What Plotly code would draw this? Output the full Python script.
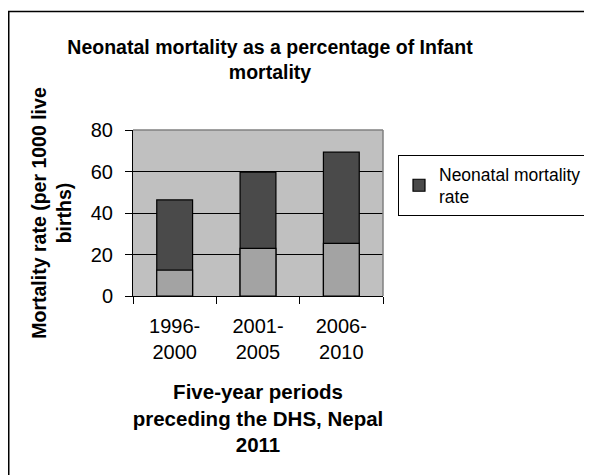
import plotly.graph_objects as go

categories = ["1996-<br>2000", "2001-<br>2005", "2006-<br>2010"]
neonatal_total = [46.3, 59.7, 69.3]
lower_values = [12.5, 23.0, 25.4]
y_ticks = [0, 20, 40, 60, 80]

FONT = "Liberation Sans, Arial, sans-serif"

fig = go.Figure()
fig.add_trace(go.Bar(
    x=categories, y=neonatal_total, name="Neonatal mortality<br>rate",
    marker=dict(color="#4a4a4a", line=dict(color="black", width=1.2)),
    width=0.43, showlegend=True,
))
fig.add_trace(go.Bar(
    x=categories, y=lower_values, name="",
    marker=dict(color="#a3a3a3", line=dict(color="black", width=1.2)),
    width=0.43, showlegend=False,
))

OFF = 8  # page body margin
PL, PT, PW, PH = 133, 130, 250, 166  # plot area in page pixels
L = PL - OFF
T = PT - OFF
R = 592 - L - PW
B = 475 - T - PH


def px(xp):
    return (xp - PL) / PW


def py(yp):
    return (PT + PH - yp) / PH


fig.update_layout(
    width=592, height=475,
    margin=dict(l=L, r=R, t=T, b=B, pad=0, autoexpand=False),
    barmode="overlay",
    paper_bgcolor="white",
    plot_bgcolor="#c0c0c0",
    font=dict(family=FONT, color="black", size=20),
    title=dict(
        text="<b>Neonatal mortality as a percentage of Infant<br>mortality</b>",
        x=px(270), xref="paper", xanchor="center",
        y=1 - (54 - OFF) / 475, yref="container", yanchor="middle",
        font=dict(size=19.5, family=FONT),
    ),
    legend=dict(
        x=px(398), y=py(155), xanchor="left", yanchor="top",
        bordercolor="black", borderwidth=1, bgcolor="white",
        font=dict(size=17.5, family=FONT),
        itemwidth=30,
    ),
    showlegend=True,
)

fig.update_xaxes(
    type="category", tickson="boundaries", ticks="outside", ticklen=7,
    tickcolor="black", showline=True, linecolor="black", linewidth=1,
    showgrid=False, tickfont=dict(size=20), ticklabelstandoff=12,
    title=dict(text="<b>Five-year periods<br>preceding the DHS, Nepal<br>2011</b>",
               font=dict(size=20.5), standoff=22),
)
fig.update_yaxes(
    range=[0, 80], tickvals=y_ticks, ticks="outside", ticklen=7,
    tickcolor="black", showline=True, linecolor="black", linewidth=1,
    showgrid=True, gridcolor="black", gridwidth=1, zeroline=False,
    tickfont=dict(size=20), ticklabelstandoff=8,
    title=dict(text="<b>Mortality rate (per 1000 live<br>births)</b>",
               font=dict(size=19.5), standoff=13),
)

# gray plot-area border on top and right
fig.add_shape(type="line", xref="x domain", yref="y domain", x0=0, x1=1, y0=1, y1=1,
              line=dict(color="#808080", width=1.5), layer="above")
fig.add_shape(type="line", xref="x domain", yref="y domain", x0=1, x1=1, y0=0, y1=1,
              line=dict(color="#808080", width=1.5), layer="above")
# chart frame
fig.add_shape(type="rect", xref="paper", yref="paper",
              x0=px(OFF + 0.75), x1=px(620), y0=py(500), y1=py(11.5),
              line=dict(color="black", width=1.5), fillcolor="rgba(0,0,0,0)", layer="below")

fig.write_html("out.html")
